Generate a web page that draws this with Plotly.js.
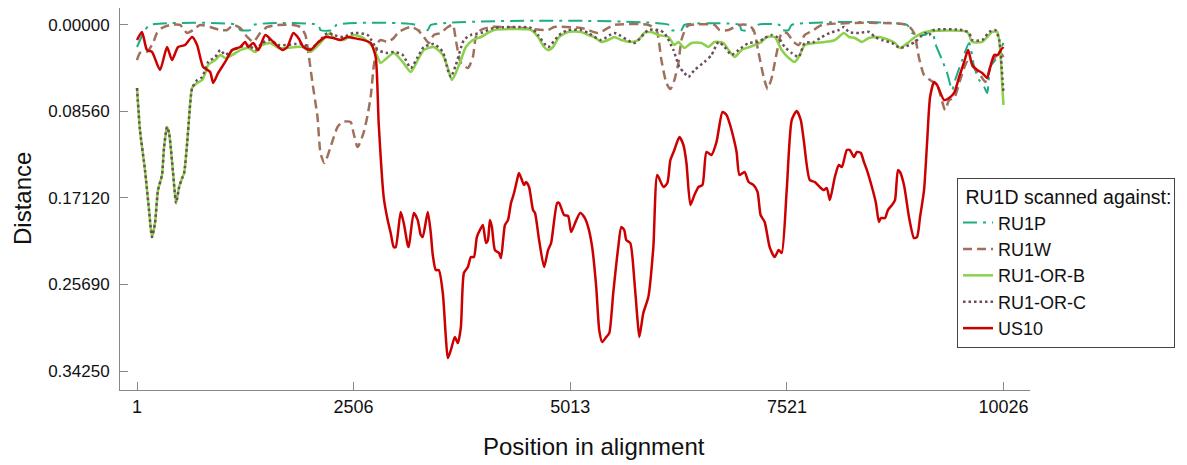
<!DOCTYPE html>
<html>
<head>
<meta charset="utf-8">
<script src="https://cdn.plot.ly/plotly-3.0.1.min.js"></script>
<style>html,body{margin:0;padding:0;background:#fff;}#chart{width:1187px;height:465px;}</style>
</head>
<body>
<div id="chart"></div>
<script>
// ---- data (position in alignment, distance) ----
const seriesNames = ["RU1P", "RU1W", "RU1-OR-B", "RU1-OR-C", "US10"];
const xTicks = [1, 2506, 5013, 7521, 10026];
const yTicks = [0, 0.0856, 0.1712, 0.2569, 0.3425];
const yTickText = ["0.00000", "0.08560", "0.17120", "0.25690", "0.34250"];

const xRU1P = [1,93,151,1160,1195,1311,1346,2100,2123,2274,2308,3225,3249,3365,3400,6160,6184,6300,6334,6972,6995,7146,7181,7436,7460,7541,7576,8910,8968,9119,9200,9235,9316,9374,9432,9467,9548,9629,9687,9745,9803,9838,9873,9931,9989,10026];
const yRU1P = [0.0218,0.0050,0,0,0.005,0.005,0,0,0.005,0.005,0,0,0.005,0.005,0,0,0.005,0.005,0,0,0.005,0.005,0,0,0.005,0.005,0,0,0.0079,0.0099,0.005,0.0178,0.0347,0.0475,0.0644,0.0545,0.0347,0.0178,0.0416,0.0545,0.0614,0.0673,0.0416,0.0347,0.0248,0.0178];

const xRU1W = [1,35,116,186,232,290,383,499,580,650,731,847,963,1044,1114,1195,1276,1346,1427,1508,1624,1810,1891,1949,1984,2031,2089,2124,2170,2240,2321,2379,2472,2506,2553,2622,2669,2704,2739,2785,2820,2901,2971,3029,3168,3249,3319,3377,3435,3516,3597,3655,3690,3748,3829,3887,3922,3980,4096,4444,4757,4827,5140,5221,5337,5522,5917,6010,6068,6126,6172,6218,6265,6300,6358,6393,6683,6741,6845,6961,7077,7135,7193,7251,7297,7344,7402,7460,7518,7599,7657,7727,7831,7924,8910,8991,9049,9107,9177,9258,9351,9397,9455,9525,9606,9687,9757,9815,9873,9931,9989,10026];
const yRU1W = [0.0347,0.0277,0.0267,0.0178,0.0079,0.0030,0,0,0.0079,0.0050,0,0.0020,0.0050,0.0050,0,0.0030,0.0119,0.0168,0.0079,0.0020,0,0,0.0020,0.0099,0.0277,0.0574,0.0911,0.1267,0.1366,0.1208,0.1010,0.0960,0.0960,0.1069,0.1208,0.1069,0.0891,0.0713,0.0416,0.0178,0.0149,0.0168,0.0129,0.0069,0.0020,0.0050,0.0119,0.0178,0.0099,0.0079,0.0020,0,0.0149,0.0376,0.0426,0.0317,0.0119,0.0050,0.0020,0.0030,0.0050,0.0020,0.0030,0.0050,0.0079,0,0,0.0050,0.0347,0.0574,0.0634,0.0545,0.0376,0.0149,0.0020,0,0,0.0050,0.0050,0,0,0.0050,0.0277,0.0515,0.0634,0.0525,0.0277,0.0079,0.0079,0.0168,0.0198,0.0099,0.0050,0,0,0.0079,0.0327,0.0495,0.0545,0.0594,0.0842,0.0743,0.0723,0.0545,0.0366,0.0426,0.0495,0.0564,0.0416,0.0317,0.0277,0.0317];

const xORB = [1,35,93,140,174,209,244,290,314,348,372,418,453,488,523,546,581,604,639,696,755,790,824,906,964,1022,1103,1196,1289,1370,1451,1544,1637,1741,1834,1927,2008,2100,2205,2240,2274,2390,2506,2622,2727,2785,2820,2971,3075,3168,3249,3319,3435,3539,3597,3644,3690,3748,3806,3887,3980,4061,4131,4560,4641,4711,4757,4815,4885,4989,5140,5221,5291,5372,5453,5523,5604,5720,5801,5871,5952,6033,6149,6218,6265,6334,6416,6532,6613,6683,6787,6845,6915,6996,7089,7147,7228,7286,7379,7460,7541,7611,7657,7727,7843,7959,8075,8180,8238,8307,8388,8470,8585,8701,8771,8829,8933,9003,9119,9606,9664,9780,9838,9896,9954,9989,10010,10026];
const yORB = [0.0624,0.1040,0.1436,0.1832,0.2099,0.1960,0.1634,0.1485,0.1208,0.1010,0.1069,0.1465,0.1762,0.1604,0.1515,0.1465,0.1168,0.0911,0.0624,0.0574,0.0545,0.0475,0.0396,0.0347,0.0297,0.0327,0.0297,0.0248,0.0228,0.0267,0.0198,0.0178,0.0228,0.0228,0.0218,0.0218,0.0267,0.0198,0.0099,0.0079,0.0129,0.0149,0.0099,0.0129,0.0218,0.0317,0.0376,0.0277,0.0366,0.0465,0.0347,0.0248,0.0218,0.0297,0.0426,0.0545,0.0475,0.0347,0.0218,0.0149,0.0119,0.0079,0.0050,0.0050,0.0119,0.0218,0.0248,0.0218,0.0119,0.0069,0.0069,0.0099,0.0119,0.0168,0.0149,0.0119,0.0149,0.0168,0.0149,0.0079,0.0069,0.0099,0.0119,0.0198,0.0168,0.0228,0.0178,0.0178,0.0218,0.0168,0.0178,0.0248,0.0317,0.0248,0.0218,0.0198,0.0168,0.0119,0.0119,0.0248,0.0327,0.0366,0.0317,0.0198,0.0178,0.0168,0.0149,0.0079,0.0119,0.0129,0.0168,0.0129,0.0119,0.0149,0.0178,0.0228,0.0168,0.0119,0.0069,0.0069,0.0168,0.0168,0.0119,0.0069,0.0069,0.0248,0.0574,0.0792];

const xORC = [1,35,93,140,174,209,244,290,314,348,372,418,453,488,523,546,581,604,639,696,755,824,906,964,1022,1103,1196,1289,1370,1451,1544,1637,1741,1834,1927,2008,2100,2205,2274,2390,2506,2669,2785,2901,2971,3075,3168,3249,3319,3435,3539,3597,3632,3690,3783,3864,3980,4131,4560,4641,4757,4885,4989,5140,5221,5372,5523,5755,5917,6033,6102,6207,6276,6334,6381,6451,6567,6648,6729,6799,6880,6961,7077,7193,7263,7344,7425,7495,7576,7657,7727,7831,7924,8017,8121,8180,8238,8354,8470,8539,8620,8736,8829,8933,9003,9119,9165,9223,9548,9629,9664,9780,9861,9931,9977,10005,10026];
const yORC = [0.0624,0.1040,0.1436,0.1832,0.2099,0.1960,0.1634,0.1485,0.1208,0.1010,0.1069,0.1465,0.1762,0.1604,0.1515,0.1465,0.1168,0.0911,0.0624,0.0545,0.0515,0.0366,0.0317,0.0248,0.0297,0.0248,0.0218,0.0198,0.0248,0.0178,0.0149,0.0198,0.0198,0.0188,0.0188,0.0238,0.0168,0.0079,0.0099,0.0119,0.0079,0.0099,0.0248,0.0277,0.0267,0.0297,0.0426,0.0317,0.0218,0.0188,0.0267,0.0446,0.0515,0.0396,0.0149,0.0099,0.0079,0.0030,0.0030,0.0099,0.0218,0.0099,0.0050,0.0050,0.0079,0.0149,0.0079,0.0178,0.0050,0.0050,0.0079,0.0248,0.0416,0.0475,0.0515,0.0446,0.0366,0.0297,0.0168,0.0218,0.0297,0.0248,0.0178,0.0168,0.0129,0.0099,0.0129,0.0218,0.0277,0.0317,0.0178,0.0168,0.0119,0.0079,0.0050,0.0020,0.0069,0.0079,0.0069,0.0119,0.0149,0.0178,0.0228,0.0198,0.0168,0.0079,0.0099,0.0050,0.0050,0.0079,0.0149,0.0149,0.0069,0.0050,0.0149,0.0416,0.0673];

const xUS10 = [1,58,116,174,267,348,406,476,557,638,696,766,847,882,940,1021,1102,1195,1253,1288,1346,1404,1485,1578,1682,1740,1810,1868,1926,2007,2089,2181,2274,2355,2437,2506,2622,2704,2762,2797,2855,2901,2936,2971,2994,3052,3087,3133,3145,3203,3249,3284,3307,3365,3400,3423,3458,3493,3539,3574,3597,3632,3678,3713,3748,3783,3829,3864,3899,3933,3980,4003,4038,4061,4084,4107,4142,4189,4212,4258,4293,4328,4363,4398,4421,4479,4502,4537,4583,4606,4653,4711,4757,4792,4862,4885,4943,4989,5024,5070,5128,5175,5221,5267,5314,5349,5383,5430,5465,5511,5569,5604,5639,5662,5708,5755,5789,5813,5859,5917,5975,6021,6091,6137,6172,6218,6276,6323,6358,6404,6450,6497,6543,6590,6648,6706,6775,6822,6856,6903,6938,6972,7030,7077,7135,7181,7216,7263,7321,7379,7425,7460,7518,7576,7634,7681,7715,7785,7843,7901,7947,7982,8017,8075,8121,8156,8214,8249,8295,8330,8376,8411,8446,8504,8550,8585,8608,8655,8689,8736,8771,8805,8829,8875,8898,8933,8991,9026,9061,9107,9142,9177,9223,9258,9339,9397,9455,9513,9571,9617,9664,9722,9780,9838,9873,9919,9960,9995,10026];
const yUS10 = [0.0149,0.0069,0.0248,0.0267,0.0446,0.0218,0.0347,0.0218,0.0198,0.0119,0.0198,0.0416,0.0465,0.0574,0.0475,0.0366,0.0248,0.0218,0.0168,0.0218,0.0178,0.0248,0.0099,0.0168,0.0248,0.0218,0.0079,0.0129,0.0218,0.0248,0.0178,0.0119,0.0129,0.0149,0.0119,0.0129,0.0149,0.0178,0.0317,0.0970,0.1703,0.1931,0.2059,0.2198,0.2198,0.1851,0.1960,0.2178,0.2198,0.1861,0.1931,0.2079,0.2099,0.1851,0.2059,0.2277,0.2426,0.2426,0.2653,0.3089,0.3297,0.3218,0.3089,0.3149,0.2990,0.2455,0.2396,0.2297,0.2297,0.2099,0.2010,0.1980,0.2158,0.2129,0.1931,0.2000,0.2228,0.2257,0.2307,0.1980,0.1931,0.1762,0.1663,0.1535,0.1465,0.1584,0.1554,0.1604,0.1832,0.1861,0.2129,0.2396,0.2228,0.2158,0.1762,0.1762,0.1881,0.1891,0.2050,0.1960,0.1861,0.1901,0.2000,0.2198,0.2594,0.3020,0.3139,0.3089,0.3050,0.2653,0.2198,0.2000,0.2030,0.2129,0.2158,0.2525,0.2891,0.3089,0.2851,0.2693,0.2198,0.1485,0.1604,0.1564,0.1337,0.1238,0.1109,0.1188,0.1366,0.1782,0.1683,0.1604,0.1584,0.1257,0.1287,0.1158,0.0861,0.0891,0.0970,0.1119,0.1257,0.1485,0.1455,0.1554,0.1584,0.1653,0.1881,0.1950,0.2198,0.2297,0.2228,0.2257,0.1634,0.0941,0.0851,0.0941,0.1139,0.1535,0.1554,0.1604,0.1634,0.1614,0.1733,0.1505,0.1386,0.1406,0.1238,0.1238,0.1307,0.1257,0.1267,0.1356,0.1436,0.1604,0.1762,0.1950,0.1911,0.1911,0.1832,0.1782,0.1733,0.1436,0.1455,0.1584,0.1703,0.1901,0.2109,0.2099,0.1901,0.1634,0.1168,0.0713,0.0564,0.0594,0.0743,0.0723,0.0673,0.0515,0.0366,0.0248,0.0396,0.0446,0.0475,0.0525,0.0416,0.0297,0.0297,0.0248,0.0218];

const colors = ["#1aae82", "#a0705c", "#8bd14a", "#6a4c5c", "#cc0000"];
const dashes = ["14px,6px,3px,6px", "9px,5px", "solid", "2.5px,3px", "solid"];
const widths = [2, 2.5, 2.5, 2.5, 2.5];
const xs = [xRU1P, xRU1W, xORB, xORC, xUS10];
const ys = [yRU1P, yRU1W, yORB, yORC, yUS10];

const traces = seriesNames.map((name, i) => ({
  type: "scatter", mode: "lines", name: name,
  x: xs[i], y: ys[i],
  line: {color: colors[i], width: widths[i], dash: dashes[i], shape: "spline", smoothing: 0.6}
}));

const font = "Liberation Sans, Arial, sans-serif";
const layout = {
  width: 1187, height: 465,
  margin: {l: 120, r: 157, t: 8, b: 75},
  paper_bgcolor: "#ffffff", plot_bgcolor: "#ffffff",
  showlegend: true,
  font: {family: font, color: "#111"},
  xaxis: {
    range: [-196, 10333], tickvals: xTicks, ticktext: xTicks.map(String),
    showgrid: false, zeroline: false, showline: true, linecolor: "#888", linewidth: 1,
    ticks: "inside", ticklen: 8, tickcolor: "#888", tickfont: {size: 18, family: font, color: "#111"},
    fixedrange: true
  },
  yaxis: {
    range: [0.3613, -0.0168], tickvals: yTicks, ticktext: yTickText,
    showgrid: false, zeroline: false, showline: true, linecolor: "#888", linewidth: 1,
    ticks: "inside", ticklen: 8, tickcolor: "#888", tickfont: {size: 17, family: font, color: "#111"},
    ticklabelstandoff: 6, fixedrange: true
  },
  legend: {
    x: 0.9198, y: 0.555, xanchor: "left", yanchor: "top",
    bgcolor: "#ffffff", bordercolor: "#444", borderwidth: 1,
    font: {size: 18, family: font, color: "#111"},
    title: {text: "\u00a0RU1D scanned against:", font: {size: 19.5, family: font, color: "#111"}},
    itemwidth: 30, tracegroupgap: 0
  },
  annotations: [
    {text: "Position in alignment", xref: "paper", yref: "paper", x: 0.5209, y: -0.149,
     xanchor: "center", yanchor: "middle", showarrow: false, font: {size: 24, family: font, color: "#111"}},
    {text: "Distance", xref: "paper", yref: "paper", x: -0.1077, y: 0.5026, textangle: -90,
     xanchor: "center", yanchor: "middle", showarrow: false, font: {size: 24, family: font, color: "#111"}}
  ]
};

Plotly.newPlot("chart", traces, layout, {displayModeBar: false, staticPlot: true});
</script>
</body>
</html>
